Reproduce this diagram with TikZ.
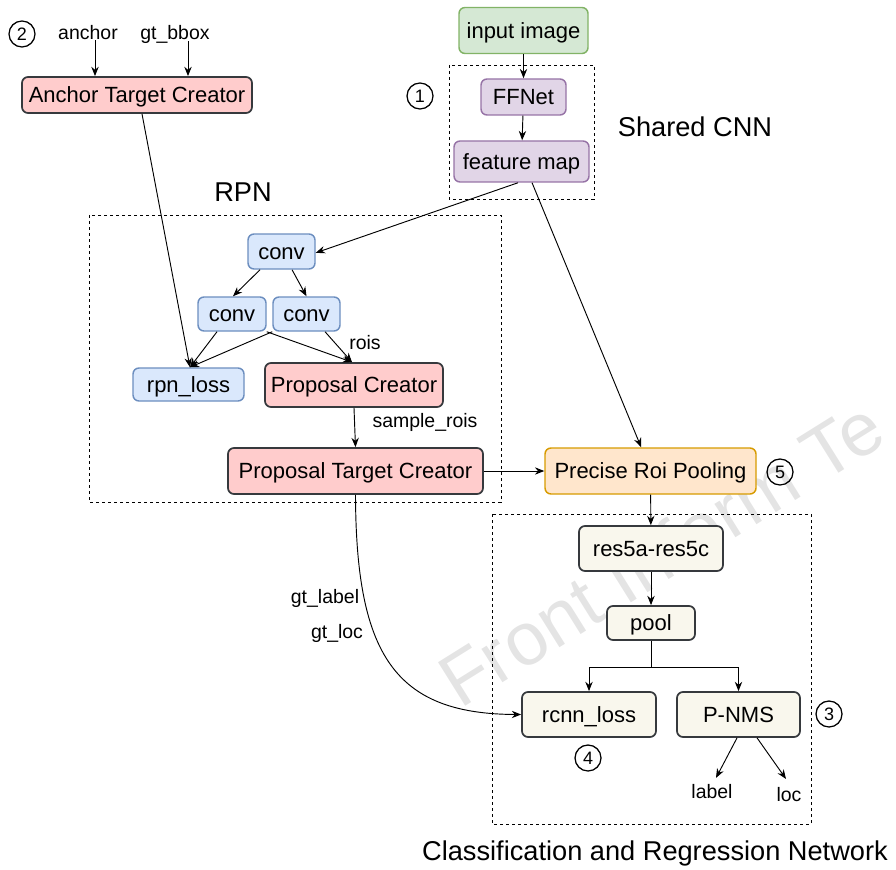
\documentclass[tikz,border=0pt]{standalone}
\usepackage{fontspec}
\setmainfont{Liberation Sans}
\usetikzlibrary{arrows.meta}
\definecolor{greenF}{HTML}{D5E8D4}\definecolor{greenD}{HTML}{82B366}
\definecolor{purpF}{HTML}{E1D5E7}\definecolor{purpD}{HTML}{9673A6}
\definecolor{blueF}{HTML}{DAE8FC}\definecolor{blueD}{HTML}{6C8EBF}
\definecolor{pinkF}{HTML}{FFCCCC}\definecolor{darkD}{HTML}{36393D}
\definecolor{orangeF}{HTML}{FFE6CC}\definecolor{orangeD}{HTML}{D79B00}
\definecolor{creamF}{HTML}{F9F7ED}
\definecolor{wmark}{HTML}{E4E4E4}
\begin{document}
\begin{tikzpicture}[x=0.75pt,y=-0.75pt,
  sz/.style 2 args={minimum width=#1*0.75pt, minimum height=#2*0.75pt},
  box/.style={draw, rounded corners=4.5pt, line width=1.1pt, inner sep=0pt,
    font=\fontsize{16.5}{19}\selectfont, text height=11.8pt, text depth=0pt},
  gbox/.style={box, fill=greenF, draw=greenD},
  pbox/.style={box, fill=purpF, draw=purpD},
  bbox/.style={box, fill=blueF, draw=blueD},
  rbox/.style={box, fill=pinkF, draw=darkD, line width=1.3pt},
  obox/.style={box, fill=orangeF, draw=orangeD},
  cbox/.style={box, fill=creamF, draw=darkD, line width=1.3pt},
  lbl/.style={font=\fontsize{14.6}{17}\selectfont, inner sep=0pt},
  ttl/.style={font=\fontsize{20.4}{24}\selectfont, inner sep=0pt},
  num/.style={circle, draw, line width=0.95pt, minimum size=19.5pt, inner sep=0pt,
    font=\fontsize{13.5}{15}\selectfont},
  arr/.style={-{Stealth[length=7pt,width=5.5pt]}, line width=0.7pt},
  ln/.style={line width=0.7pt},
  grp/.style={draw, dash pattern=on 2.5pt off 2pt, line width=0.6pt},
  wmk/.style={text=wmark, font=\fontsize{56}{64}\selectfont, inner sep=0pt}
]
\useasboundingbox (0,0) rectangle (896,870);

% watermark
\begin{scope}
\clip (0,0) rectangle (896,870);
\node[wmk, rotate=32, anchor=base west] (wm) at (460,710) {Front Inform Te};
\end{scope}

% group frames
\draw[grp] (449,65) rectangle (594,199);
\draw[grp] (89,215) rectangle (501,502);
\draw[grp] (492,514) rectangle (811,824);

% titles
\node[ttl] (tshared) at (695,127) {Shared CNN};
\node[ttl] (trpn) at (243,192) {RPN};
\node[ttl] (tcls) at (655,853) {Classification and Regression Network};

% circled numbers
\node[num] (n1) at (420,96) {1};
\node[num] (n2) at (22,34) {2};
\node[num] (n3) at (829,714) {3};
\node[num] (n4) at (588,758) {4};
\node[num] (n5) at (780,472) {5};

% nodes
\node[gbox, sz={129}{46}] (input) at (523.5,30.5) {input image};
\node[pbox, sz={85}{36}] (ffnet) at (523.5,97) {FFNet};
\node[pbox, sz={135}{41}] (fmap) at (521.5,161.5) {feature map};

\node[lbl] (anchorlbl) at (88,33) {anchor};
\node[lbl] (gtbbox) at (175,34) {gt\_bbox};
\node[rbox, sz={230}{36}] (atc) at (137,95) {Anchor Target Creator};

\node[bbox, sz={67}{35}] (conv1) at (281.5,251.5) {conv};
\node[bbox, sz={68}{34}] (conv2) at (232,314) {conv};
\node[bbox, sz={67}{34}] (conv3) at (306.5,314) {conv};
\node[bbox, sz={111}{33}] (rpnloss) at (188.5,384.5) {rpn\_loss};
\node[rbox, sz={178}{44}] (propc) at (354,385) {Proposal Creator};
\node[rbox, sz={255}{46}] (ptc) at (355.5,471) {Proposal Target Creator};
\node[obox, sz={211}{46}] (roi) at (650.5,471) {Precise Roi Pooling};

\node[cbox, sz={144}{45}] (res5) at (651,548.5) {res5a-res5c};
\node[cbox, sz={88}{34}] (pool) at (651,623) {pool};
\node[cbox, sz={134}{45}] (rcnn) at (589,714.5) {rcnn\_loss};
\node[cbox, sz={123}{45}] (pnms) at (738.5,714.5) {P-NMS};

\node[lbl] (labeltxt) at (712,792) {label};
\node[lbl] (loctxt) at (789,795) {loc};
\node[lbl] (rois) at (365,343) {rois};
\node[lbl] (srois) at (425,422) {sample\_rois};
\node[lbl] (gtlabel) at (325,598) {gt\_label};
\node[lbl] (gtloc) at (337,633) {gt\_loc};

% helper x positions
\coordinate (xa) at (95,0);
\coordinate (xb) at (188,0);

% connectors
\draw[arr] (anchorlbl.south -| xa) -- (atc.north -| xa);
\draw[arr] ([yshift=1.5pt]gtbbox.south -| xb) -- (atc.north -| xb);
\draw[arr] (input) -- (ffnet);
\draw[arr] (ffnet) -- (fmap);
\draw[arr] ([xshift=-2.6pt]fmap.south) -- ([yshift=-1pt]conv1.east);
\draw[arr] ([xshift=7.9pt]fmap.south) -- ([xshift=-7pt]roi.north);
\draw[arr] ([xshift=3.75pt]atc.south) -- ([xshift=1.1pt]rpnloss.north);
\draw[arr] ([xshift=-16.1pt]conv1.south) -- ([xshift=0.75pt]conv2.north);
\draw[arr] ([xshift=7.9pt]conv1.south) -- (conv3.north);
\draw[arr] ([xshift=-11.25pt]conv2.south) -- ([xshift=1.1pt]rpnloss.north);
\draw[arr] (conv3.south west) -- ([xshift=1.1pt]rpnloss.north);
\draw[arr] (conv2.south east) -- ([xshift=-1.5pt]propc.north);
\draw[arr] ([xshift=13.9pt]conv3.south) -- ([xshift=-1.5pt]propc.north);
\draw[arr] (propc.south) -- (ptc.north);
\draw[arr] (ptc.east) -- (roi.west);
\draw[arr] (roi) -- (res5);
\draw[arr] (res5) -- (pool);
\draw[arr] (pool.south) -- ++(0,27) -| (rcnn.north);
\draw[ln] (pool.south) -- ++(0,27) coordinate (split);
\draw[arr] (split) -| (pnms.north);
\draw[arr] ([xshift=-1.1pt]pnms.south) -- ([xshift=3pt,yshift=5pt]labeltxt.north);
\draw[arr] ([xshift=13.9pt]pnms.south) -- ([xshift=-2.25pt,yshift=6.5pt]loctxt.north);
\draw[arr] (ptc.south) .. controls (356,655) and (395,714) .. (rcnn.west);

\end{tikzpicture}
\end{document}
